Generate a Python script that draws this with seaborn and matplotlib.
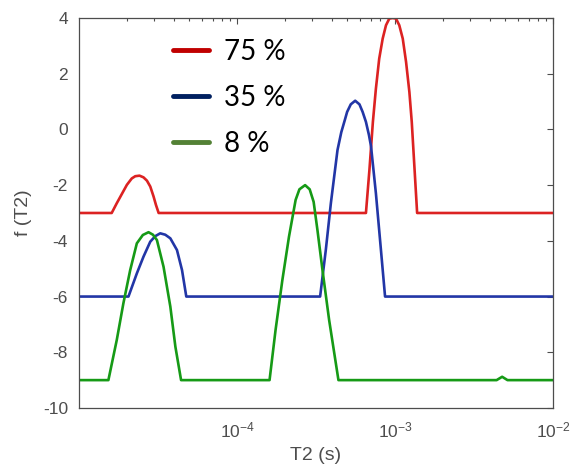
import numpy as np
import pandas as pd
import matplotlib
matplotlib.use('Agg')
import matplotlib.pyplot as plt
import seaborn as sns
from matplotlib.lines import Line2D

# T2 值以 log10(秒) 記錄
t2_log_75 = [-5.0, -4.793, -4.761, -4.729, -4.697, -4.666, -4.644, -4.617, -4.592, -4.570, -4.549,
             -4.528, -4.513, -4.496,
             -3.184, -3.162, -3.140, -3.121, -3.100, -3.078, -3.057, -3.036, -3.015, -2.994, -2.973,
             -2.951, -2.930, -2.909, -2.894, -2.876, -2.860, -2.0]
f_75 = [-3.0, -3.0, -2.65, -2.32, -1.99, -1.76, -1.68, -1.66, -1.72, -1.84, -2.05,
        -2.41, -2.71, -3.0,
        -3.0, -1.46, 0.27, 1.46, 2.54, 3.26, 3.74, 3.98, 4.0, 3.98, 3.74,
        3.26, 2.42, 1.34, 0.27, -1.46, -3.0, -3.0]

t2_log_35 = [-5.0, -4.687, -4.634, -4.592, -4.549, -4.517, -4.486, -4.454, -4.422, -4.380, -4.348, -4.321,
             -3.474, -3.438, -3.406, -3.364, -3.340, -3.317, -3.303, -3.280, -3.252, -3.225, -3.205,
             -3.184, -3.165, -3.152, -3.121, -3.089, -3.063, -2.0]
f_35 = [-6.0, -6.0, -5.17, -4.57, -4.03, -3.83, -3.73, -3.78, -3.91, -4.33, -5.05, -6.0,
        -6.0, -4.33, -2.65, -0.74, -0.10, 0.35, 0.63, 0.90, 1.03, 0.90, 0.63,
        0.27, -0.20, -0.60, -2.29, -4.33, -6.0, -6.0]

t2_log_8 = [-5.0, -4.814, -4.761, -4.719, -4.676, -4.634, -4.596, -4.560, -4.532, -4.507, -4.465,
            -4.422, -4.390, -4.354,
            -3.794, -3.756, -3.713, -3.671, -3.629, -3.605, -3.569, -3.540, -3.515, -3.491, -3.459,
            -3.417, -3.358,
            -2.357, -2.322, -2.288, -2.0]
f_8 = [-9.0, -9.0, -7.56, -6.24, -5.05, -4.09, -3.79, -3.69, -3.78, -3.97, -4.93,
       -6.36, -7.8, -9.0,
       -9.0, -7.2, -5.41, -3.85, -2.53, -2.15, -2.0, -2.15, -2.6, -3.61, -5.05,
       -6.84, -9.0,
       -9.0, -8.88, -9.0, -9.0]

labels = ['75 %', '35 %', '8 %']
line_colors = ['#dc2222', '#2236a6', '#169a16']
legend_colors = ['#c00000', '#002060', '#538135']

frames = []
for lab, xs, ys in zip(labels, [t2_log_75, t2_log_35, t2_log_8], [f_75, f_35, f_8]):
    frames.append(pd.DataFrame({'T2': 10 ** np.array(xs), 'f': ys, 'sample': lab}))
df = pd.concat(frames, ignore_index=True)

sns.set_style('white')
plt.rcParams['font.family'] = ['Liberation Sans', 'DejaVu Sans']
plt.rcParams['axes.unicode_minus'] = False
fig = plt.figure(figsize=(5.7, 4.76), dpi=100)
ax = fig.add_axes([0.1386, 0.1429, 0.8316, 0.8193])

sns.lineplot(data=df, x='T2', y='f', hue='sample', palette=dict(zip(labels, line_colors)),
             estimator=None, sort=False, linewidth=1.9, legend=False, ax=ax)

ax.set_xscale('log')
ax.set_xlim(1e-5, 1e-2)
ax.set_ylim(-10, 4)
ax.set_xticks([1e-4, 1e-3, 1e-2])
ax.set_yticks(range(-10, 5, 2))
ax.tick_params(which='both', direction='in', top=True, right=True, colors='#4d4d4d',
               labelsize=12.5, width=0.8)
ax.tick_params(which='major', length=4)
ax.tick_params(which='minor', length=2.5)
ax.tick_params(axis='x', which='major', pad=9)
ax.tick_params(axis='y', which='major', pad=8)
for s in ax.spines.values():
    s.set_color('#4d4d4d')
    s.set_linewidth(0.9)

ax.set_xlabel('T2 (s)', fontsize=14, color='#4d4d4d', labelpad=5)
ax.set_ylabel('f (T2)', fontsize=14, color='#4d4d4d', labelpad=8)

# 圖例
handles = [Line2D([0], [0], color=c, linewidth=3.5) for c in legend_colors]
leg = ax.legend(handles, labels, loc='upper left', bbox_to_anchor=(0.145, 1.011), frameon=False,
                prop={'family': 'Lato', 'size': 20}, handlelength=1.3, handletextpad=0.55,
                labelspacing=0.72)
for t in leg.get_texts():
    t.set_color('black')

plt.savefig('out.png', dpi=100)
plt.close()
